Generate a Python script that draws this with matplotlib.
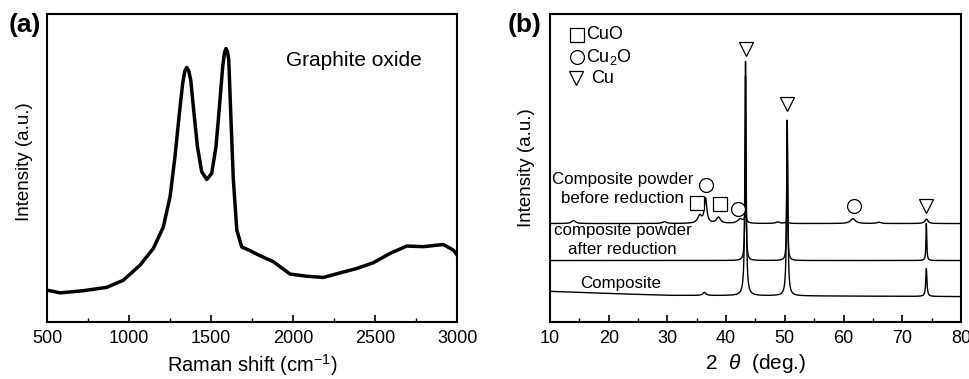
import numpy as np
import matplotlib
matplotlib.use("Agg")
import matplotlib.pyplot as plt
from matplotlib.ticker import MultipleLocator

plt.rcParams['font.family'] = ['Liberation Sans', 'DejaVu Sans']
plt.rcParams['mathtext.fontset'] = 'custom'
plt.rcParams['mathtext.rm'] = 'Liberation Sans'
plt.rcParams['mathtext.it'] = 'Liberation Sans:italic'

# ---------- (a) Raman data ----------
raman_shift = [500, 579, 721, 864, 965, 1067, 1148, 1209, 1250, 1280, 1307, 1327,
               1340, 1352, 1364, 1376, 1396, 1417, 1443, 1474, 1504, 1530, 1551,
               1571, 1582, 1591, 1600, 1608, 1620, 1636, 1657, 1687, 1738, 1789,
               1880, 1982, 2084, 2185, 2287, 2388, 2490, 2591, 2693, 2795, 2916,
               2977, 3000]
raman_int = [10.4, 9.5, 10.2, 11.3, 13.6, 18.5, 23.9, 30.9, 40.7, 53.7, 67.8, 77.5,
             81.5, 82.7, 81.5, 78.6, 67.8, 56.9, 48.8, 46.3, 48.3, 56.9, 69.9,
             82.9, 87.5, 88.8, 87.8, 85.1, 67.8, 46.1, 29.9, 24.4, 23.2, 21.8,
             19.6, 15.6, 14.9, 14.5, 16.0, 17.4, 19.3, 22.3, 24.7, 24.5, 25.2,
             23.4, 21.8]

# ---------- (b) XRD data: baselines and peaks (position, height, half-width) ----------
two_theta_range = [10, 80]
before_base_x = [10, 80]
before_base_y = [32.0, 32.0]
before_pos = [14.0, 29.5, 35.5, 36.5, 38.7, 42.4, 43.3, 48.8, 50.4, 61.6, 66.0, 74.1]
before_h = [1.0, 0.6, 2.5, 8.0, 2.0, 1.5, 2.5, 0.5, 1.0, 1.6, 0.4, 1.5]
before_w = [0.4, 0.4, 0.4, 0.25, 0.4, 0.5, 0.2, 0.4, 0.2, 0.5, 0.4, 0.3]

after_base_x = [10, 80]
after_base_y = [20.0, 20.0]
after_pos = [43.3, 50.4, 74.1]
after_h = [60.0, 44.0, 12.0]
after_w = [0.08, 0.08, 0.08]

comp_base_x = [10, 20, 30, 80]
comp_base_y = [10.0, 9.3, 8.7, 8.3]
comp_pos = [36.3, 43.3, 50.4, 74.1]
comp_h = [1.0, 76.0, 57.0, 9.0]
comp_w = [0.3, 0.12, 0.12, 0.12]

labels_text = ["Composite powder\nbefore reduction", "composite powder\nafter reduction", "Composite"]

# marker annotations
tri_x = [43.3, 50.4, 74.1]
tri_y = [88.6, 70.8, 37.7]
cir_x = [36.6, 42.0, 61.8]
cir_y = [44.5, 36.7, 37.7]
sq_x = [35.0, 39.0]
sq_y = [38.6, 38.3]


def profile(x, bx, by, pos, h, w):
    y = np.interp(x, bx, by)
    for p, hh, ww in zip(pos, h, w):
        y = y + hh * ww**2 / ((x - p)**2 + ww**2)
    return y


fig = plt.figure(figsize=(9.7, 3.79), dpi=100)
axa = fig.add_axes([0.0485, 0.150, 0.4227, 0.813])
axb = fig.add_axes([0.567, 0.150, 0.4237, 0.813])

# ---- panel a ----
axa.plot(raman_shift, raman_int, color='black', lw=2.5, solid_joinstyle='round')
axa.set_xlim(500, 3000)
axa.set_ylim(0, 100)
axa.set_yticks([])
axa.xaxis.set_major_locator(MultipleLocator(500))
axa.xaxis.set_minor_locator(MultipleLocator(250))
axa.tick_params(axis='x', which='major', direction='in', length=5, width=1.2, labelsize=13, pad=6)
axa.tick_params(axis='x', which='minor', direction='in', length=3, width=1.0)
axa.set_xlabel('Raman shift (cm$^{-1}$)', fontsize=14.5, labelpad=3)
axa.set_ylabel('Intensity (a.u.)', fontsize=13.5)
axa.yaxis.set_label_coords(-0.034, 0.52)
axa.text(0.584, 0.85, 'Graphite oxide', transform=axa.transAxes, fontsize=15, ha='left', va='center')
for s in axa.spines.values():
    s.set_linewidth(1.5)
fig.text(0.009, 0.935, '(a)', fontsize=19, fontweight='bold', ha='left', va='center')

# ---- panel b ----
x = np.arange(two_theta_range[0], two_theta_range[1] + 0.01, 0.01)
axb.plot(x, profile(x, before_base_x, before_base_y, before_pos, before_h, before_w), color='black', lw=1.0)
axb.plot(x, profile(x, after_base_x, after_base_y, after_pos, after_h, after_w), color='black', lw=1.0)
axb.plot(x, profile(x, comp_base_x, comp_base_y, comp_pos, comp_h, comp_w), color='black', lw=1.0)

mk = dict(linestyle='none', markerfacecolor='white', markeredgecolor='black', markersize=10, markeredgewidth=0.9)
axb.plot(tri_x, tri_y, marker='v', **mk)
axb.plot(cir_x, cir_y, marker='o', **mk)
axb.plot(sq_x, sq_y, marker='s', **mk)

# key
axb.plot([14.6], [93.2], marker='s', **mk)
axb.plot([14.6], [86.1], marker='o', **mk)
axb.plot([14.5], [79.2], marker='v', **mk)
axb.text(16.1, 93.2, 'CuO', fontsize=13, va='center', ha='left')
axb.text(16.1, 86.1, 'Cu$_2$O', fontsize=13, va='center', ha='left')
axb.text(17.0, 79.2, 'Cu', fontsize=13, va='center', ha='left')

axb.text(22.4, 43.2, labels_text[0], fontsize=12.2, ha='center', va='center', linespacing=1.3)
axb.text(22.4, 26.7, labels_text[1], fontsize=12.2, ha='center', va='center', linespacing=1.3)
axb.text(22.0, 12.7, labels_text[2], fontsize=12.2, ha='center', va='center')

axb.set_xlim(10, 80)
axb.set_ylim(0, 100)
axb.set_yticks([])
axb.xaxis.set_major_locator(MultipleLocator(10))
axb.xaxis.set_minor_locator(MultipleLocator(5))
axb.tick_params(axis='x', which='major', direction='in', length=5, width=1.2, labelsize=13, pad=6)
axb.tick_params(axis='x', which='minor', direction='in', length=3, width=1.0)
axb.set_xlabel(r'2  $\theta$  (deg.)', fontsize=15, labelpad=3)
axb.set_ylabel('Intensity (a.u.)', fontsize=13.5)
axb.yaxis.set_label_coords(-0.036, 0.5)
for s in axb.spines.values():
    s.set_linewidth(1.5)
fig.text(0.523, 0.935, '(b)', fontsize=19, fontweight='bold', ha='left', va='center')

fig.savefig('out.png', dpi=100)
